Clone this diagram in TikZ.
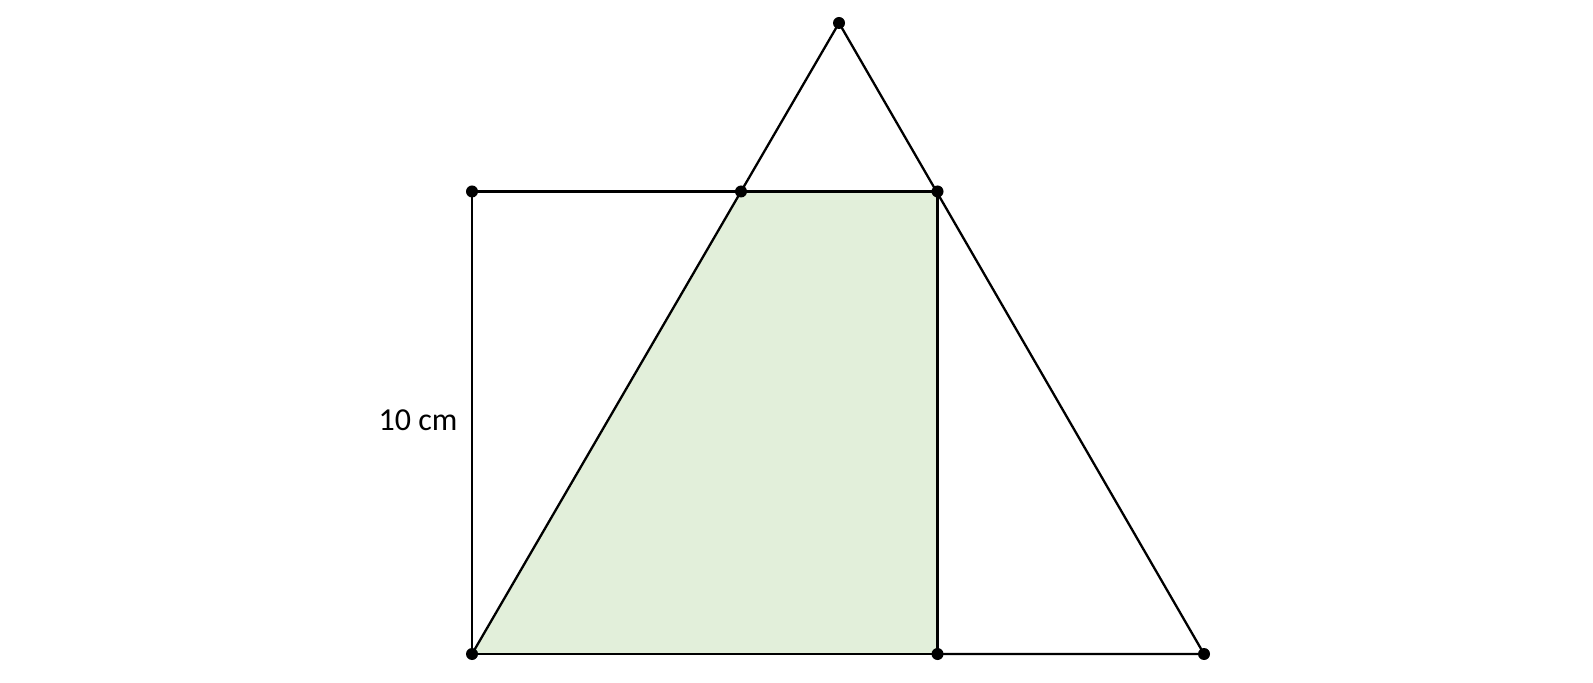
\documentclass[tikz,border=0pt]{standalone}
\usepackage{fontspec}
\setmainfont{Carlito}
\definecolor{shadegreen}{HTML}{E2EFDA}
\begin{document}
\begin{tikzpicture}[x=0.5pt,y=-0.5pt,
  edge/.style={draw=black,line width=1.15pt,line join=round},
  pt/.style={circle,fill=black,inner sep=0pt,minimum size=6pt}]
\useasboundingbox (0,0) rectangle (1593,683);
\coordinate (A) at (472,191.5);   % square top-left
\coordinate (B) at (937.5,191.5); % square top-right
\coordinate (C) at (937.5,654);   % square bottom-right
\coordinate (D) at (472,654);     % square bottom-left
\coordinate (T) at (839,23);      % apex
\coordinate (R) at (1204,654);    % triangle bottom-right
\coordinate (E) at (741,191.5);   % intersection
\fill[shadegreen] (D) -- (E) -- (B) -- (C) -- cycle;
\draw[edge] (A) -- (B) -- (C) -- (D) -- cycle;
\draw[edge] (D) -- (T) -- (R) -- (C);
\foreach \p in {A,B,C,D,T,R,E} \node[pt] at (\p) {};
\node[font=\fontsize{16pt}{19pt}\selectfont] (lab) at (418,420) {10 cm};
\end{tikzpicture}
\end{document}
